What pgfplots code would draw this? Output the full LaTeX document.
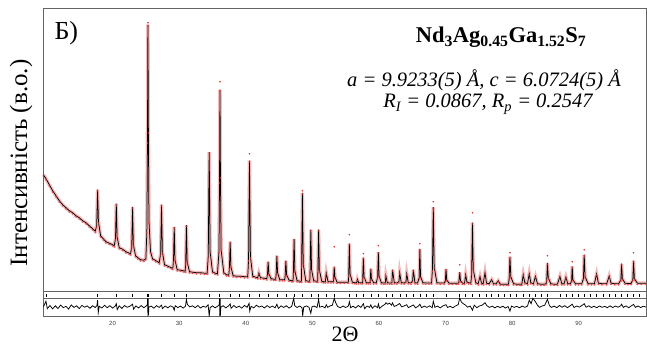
\documentclass[border=0pt]{standalone}
\usepackage{pgfplots}
\pgfplotsset{compat=1.18}
\usepackage{pgfplotstable}
\usepackage{fontspec}
\setmainfont{Liberation Serif}
\setsansfont{Liberation Sans}
\definecolor{frame}{RGB}{100,100,100}
\definecolor{obs}{RGB}{225,60,60}

\pgfplotstableread{
x y
9.6 117
10 113
10.5 107
11 101
11.5 96
12 91
12.5 87
13 84
13.5 81
14 79
14.5 76
15 74
15.5 71
16 69
16.5 66
17 63
17.4 60.5
17.62 66
17.75 102
17.88 70
18.2 56
18.6 53
19 50
19.5 48.5
20 47
20.25 46
20.44 53
20.56 88
20.68 55
21 44
21.5 42.5
22 40
22.5 38.5
22.7 38
22.88 45
23.0 84.7
23.12 47
23.45 36
23.8 34
24.2 32
24.7 31.5
25.0 33
25.15 60
25.24 150
25.31 267
25.38 160
25.47 70
25.7 40
26 33
26.5 31
27.0 29
27.22 38
27.35 87
27.48 40
27.8 27
28.3 25.5
28.8 24
29.05 23.5
29.15 31
29.26 64.7
29.37 32
29.7 22
30.2 21.5
30.6 21
30.9 20.5
30.98 28
31.09 66.5
31.2 30
31.55 20
32 19.5
32.6 19
33.2 19
33.8 18.5
34.2 18.5
34.37 35
34.51 139.5
34.65 40
35.0 20
35.4 18.5
35.75 18
35.98 40
36.06 110
36.13 202
36.2 115
36.3 42
36.7 19
37.1 17
37.45 16.5
37.55 24
37.66 50
37.77 25
38.1 16
38.6 15.5
39.2 15.5
39.8 15
40.3 15
40.42 32
40.56 131
40.7 35
41.05 15.5
41.5 14.5
41.8 14
41.97 18.7
42.2 14
42.7 13.5
43.15 13
43.26 17
43.36 30
43.47 18
43.8 13
44.2 12.5
44.5 12.5
44.57 18
44.67 36
44.78 19
45.1 12
45.5 12
45.85 12
45.92 16
46.02 31
46.13 17
46.5 11.5
46.9 11
47.1 11
47.15 19
47.26 52.7
47.37 21
47.7 11
48.1 10.5
48.35 10.5
48.39 25
48.51 98.7
48.63 28
49.0 11
49.4 10.5
49.62 10.5
49.66 20
49.77 62
49.88 22
50.2 11
50.6 10.5
50.8 10.5
50.83 20
50.94 62
51.05 22
51.4 10.5
51.7 10
51.95 10
52.09 18.7
52.35 10
52.8 10
53.15 10
53.2 14
53.29 25
53.38 15
53.7 9.5
54.2 9.5
54.8 9.5
55.4 9.5
55.46 16
55.56 48
55.66 18
56.0 9.5
56.4 9
56.65 9
56.76 12.5
56.95 9
57.3 9
57.55 9
57.57 14
57.66 34
57.76 15
58.1 9
58.4 9
58.68 9
58.7 12
58.78 23
58.87 13
59.2 9
59.6 9
59.81 15
59.91 39.5
60.01 16
60.35 9
60.7 8.7
60.95 8.7
61.04 16
61.25 9
61.6 8.7
61.94 8.7
62.04 22
62.3 9
62.7 8.7
63.0 10
63.11 19
63.35 9
63.8 8.7
64.06 10
64.17 18
64.4 9
64.8 8.7
65.06 11
65.16 22
65.4 9
65.8 8.7
66.04 14
66.14 42.7
66.25 15
66.6 9
67.0 8.7
67.5 8.7
67.9 8.7
68.03 22
68.16 84.5
68.29 25
68.7 9
69.2 8.6
69.8 8.6
69.97 11
70.07 22.7
70.17 12
70.5 8.6
71.0 8.5
71.6 8.5
71.9 8.5
72.02 10.5
72.12 19.5
72.25 11
72.55 8.5
72.85 8.5
73.02 17
73.2 10
73.45 9
73.8 8.5
73.92 18
74.04 69
74.16 22
74.55 9
74.9 8
75.17 15.3
75.4 8.5
75.65 8
75.92 19
76.15 8.5
76.55 8
76.92 12
77.2 8
77.6 8
77.91 11
78.2 7.5
78.7 7.5
79.2 7.5
79.45 7.5
79.55 13
79.67 35
79.8 15
80.2 8
80.7 7.5
81.2 7.5
81.45 7.5
81.67 17
81.9 9
82.3 8
82.57 18
82.8 9
83.2 8
83.5 15.3
83.8 8
84.3 7.5
84.8 7.5
85.1 8
85.2 12
85.3 28.7
85.42 14
85.8 8
86.3 7.5
86.8 7.5
87.17 15.3
87.45 8
87.8 8
88.07 14.7
88.35 8
88.75 8
88.93 11
89.02 25.3
89.12 12
89.5 8
90.0 8
90.45 8
90.7 13
90.82 37
90.95 15
91.4 8
91.9 8
92.35 8
92.68 17.7
92.95 8.5
93.5 8
94.2 8
94.57 15.7
94.85 8.5
95.4 8
96.0 8
96.33 12
96.43 28
96.55 13
96.95 8.5
97.4 8.2
97.85 8.2
98.12 12
98.23 31
98.35 13
98.8 8.5
99.4 8.5
100.1 8.5
}\calc

\begin{document}
\begin{tikzpicture}
\path[use as bounding box] (0pt,0pt) rectangle (647pt,345pt);
% main panel
\begin{axis}[
  at={(43.3pt,53.3pt)}, anchor=south west,
  scale only axis, width=602.7pt, height=283.4pt,
  xmin=9.6, xmax=100.1, ymin=0, ymax=283.4,
  ticks=none,
  axis line style={frame, line width=1pt},
]
\addplot[obs, line width=3.5pt, opacity=0.35] table[x=x,y=y] {\calc};
\addplot[only marks, mark=*, mark size=0.7pt, obs, opacity=0.6, mark options={yshift=-1.2pt}] table[x=x,y=y] {\calc};
\addplot[black, line width=0.75pt] table[x=x,y=y] {\calc};
\addplot[only marks, mark=*, mark size=0.6pt, obs] coordinates {
(36.13,210) (40.56,138) (74.04,79) (53.29,45) (55.56,57) (59.91,46)
(85.3,36) (90.82,42) (98.23,39) (72.12,27) (48.51,101) (25.31,269)
(66.14,48) (68.16,90) (57.66,38) (89.02,30) (79.67,39)
};
\end{axis}
% reflections + difference panel
\begin{axis}[
  at={(43.3pt,28.3pt)}, anchor=south west,
  scale only axis, width=602.7pt, height=25pt,
  xmin=9.6, xmax=100.1, ymin=0, ymax=25,
  ytick=\empty,
  xtick={20,30,...,90},
  major tick length=0pt,
  axis line style={frame, line width=1pt},
  /pgf/number format/assume math mode=true,
  xticklabel style={font=\sffamily\fontsize{6}{7}\selectfont, text=black!75, yshift=-1pt},
]
\addplot[frame, line width=1pt] coordinates {(9.6,18.4) (100.1,18.4)};
\addplot[only marks, mark=|, mark size=1.5pt, black, mark options={line width=0.6pt}] coordinates {
(10.05,21.2) (17.75,21.2) (20.56,21.2) (23.0,21.2) (25.26,21.2) (25.36,21.2) (27.35,21.2)
(29.26,21.2) (31.06,21.2) (34.51,21.2) (36.0,21.2) (36.1,21.2) (37.66,21.2) (39.05,21.2)
(40.56,21.2) (42.06,21.2) (43.36,21.2) (44.67,21.2) (46.02,21.2) (47.26,21.2) (48.51,21.2)
(49.77,21.2) (50.91,21.2) (52.06,21.2) (53.26,21.2) (55.56,21.2) (56.67,21.2) (57.66,21.2)
(58.82,21.2) (59.91,21.2) (61.07,21.2) (62.01,21.2) (63.17,21.2) (64.17,21.2) (65.16,21.2)
(66.17,21.2) (67.17,21.2) (68.16,21.2) (70.17,21.2) (72.06,21.2) (73.02,21.2) (74.07,21.2)
(75.07,21.2) (76.07,21.2) (76.92,21.2) (77.91,21.2) (78.82,21.2) (79.67,21.2) (80.67,21.2)
(81.67,21.2) (82.57,21.2) (83.42,21.2) (84.32,21.2) (85.27,21.2) (87.17,21.2) (88.07,21.2)
(89.02,21.2) (89.92,21.2) (90.82,21.2) (91.78,21.2) (92.68,21.2) (93.67,21.2) (94.57,21.2)
(95.47,21.2) (96.43,21.2) (97.27,21.2) (98.17,21.2) (99.07,21.2)
};
\addplot[black, line width=0.75pt] coordinates {
(9.6,9.7) (10.0,15.5) (10.2,8) (10.6,11.2) (11.0,7.8) (11.4,10.9) (11.8,8.2) (12.2,11.6)
(12.6,9.0) (13.0,10.4) (13.4,7.6) (13.8,11.8) (14.2,9.3) (14.6,10.9) (15.0,8.1) (15.4,11.3)
(15.8,9.5) (16.2,10.8) (16.6,8.4) (17.0,11.0) (17.4,9.2) (17.65,11) (17.75,16.5) (17.85,4)
(18.0,10.5) (18.4,8.7) (18.8,11.4) (19.2,9.0) (19.6,11.0) (20.0,8.6) (20.4,10.6) (20.56,13)
(20.7,7) (21.0,10.9) (21.4,8.3) (21.8,11.2) (22.2,9.4) (22.6,10.5) (23.0,12.5) (23.15,7.5)
(23.5,10.8) (23.9,8.8) (24.3,11.1) (24.7,9.0) (25.0,10.4) (25.22,12) (25.27,18.4) (25.31,0.5)
(25.35,18.0) (25.39,1.5) (25.45,9.5) (25.8,10.6) (26.2,8.5) (26.6,11.0) (27.0,9.3) (27.35,11.5)
(27.5,8) (27.9,10.7) (28.3,8.9) (28.7,10.9) (29.1,9.5) (29.26,6.5) (29.4,11) (29.8,9.1)
(30.2,10.6) (30.6,8.6) (30.95,10.5) (31.09,17.4) (31.25,12) (31.6,9.8) (32.0,10.9) (32.4,9.0)
(32.8,11.2) (33.2,8.7) (33.6,10.5) (34.0,9.4) (34.35,12) (34.51,0.7) (34.65,9) (35.0,10.8)
(35.4,8.9) (35.8,10.6) (36.02,12) (36.07,18.4) (36.11,0.5) (36.15,18.4) (36.19,1) (36.25,9.5)
(36.6,11.0) (37.0,8.8) (37.4,10.7) (37.66,12.8) (37.8,8.4) (38.2,11.2) (38.6,9.1) (39.0,10.6)
(39.4,8.5) (39.8,11.3) (40.2,9.4) (40.5,13.5) (40.6,5.5) (40.8,10.4) (41.2,8.8) (41.6,11.5)
(42.0,9.6) (42.4,10.7) (42.8,8.7) (43.2,11.1) (43.6,9.2) (44.0,10.6) (44.4,8.9) (44.67,12.5)
(44.9,8.3) (45.3,10.8) (45.7,9.3) (46.1,11.0) (46.5,8.6) (46.9,10.3) (47.2,18.4) (47.35,11)
(47.7,9.2) (48.1,10.7) (48.45,9) (48.55,0.7) (48.7,9.6) (49.1,10.8) (49.5,9.4) (49.77,3.4)
(49.95,10) (50.3,10.6) (50.7,9.1) (50.94,17.4) (51.1,9.5) (51.5,10.4) (51.9,8.8) (52.09,12)
(52.3,9.4) (52.7,10.9) (53.0,11.5) (53.29,18.4) (53.5,14) (53.8,10.2) (54.2,9.0) (54.6,10.7)
(55.0,9.2) (55.4,10.6) (55.56,15) (55.75,9) (56.1,10.5) (56.5,8.8) (56.9,11.2) (57.3,9.3)
(57.66,13) (57.85,8) (58.2,10.6) (58.6,9.4) (58.78,11.8) (59.0,8.5) (59.4,10.9) (59.8,9.0)
(59.91,12.8) (60.1,8.3) (60.5,10.7) (60.9,12.3) (61.04,14) (61.3,12.5) (61.6,13.5) (61.9,11.5)
(62.04,13.8) (62.3,10.2) (62.7,11.4) (63.11,13.2) (63.4,9.8) (63.8,10.8) (64.17,12) (64.4,9.1)
(64.8,10.4) (65.16,11.8) (65.5,8.9) (65.9,10.5) (66.14,12.5) (66.4,9.0) (66.8,10.6) (67.2,9.3)
(67.6,10.9) (68.0,9.0) (68.16,15.5) (68.4,9.4) (68.8,10.6) (69.2,8.8) (69.6,10.8) (70.07,12)
(70.3,9.2) (70.7,10.4) (71.1,8.9) (71.5,10.8) (71.9,12) (72.12,18.4) (72.4,14.5) (72.7,12.8)
(73.02,11.5) (73.3,9.5) (73.7,10.6) (74.04,6.5) (74.3,11.5) (74.7,9.0) (75.1,10.8) (75.5,11.5)
(75.92,14) (76.2,11.0) (76.6,9.3) (77.0,10.6) (77.4,8.8) (77.8,10.4) (78.2,9.1) (78.6,10.5)
(79.0,8.7) (79.4,10.2) (79.67,5.5) (79.9,10.6) (80.3,9.3) (80.7,10.4) (81.1,8.9) (81.5,10.6)
(81.9,9.4) (82.3,10.5) (82.57,16.5) (82.85,13) (83.1,18.4) (83.5,15) (83.8,11.5) (84.1,9.4)
(84.5,10.7) (84.9,11.5) (85.3,17.4) (85.6,11) (85.9,9.3) (86.3,10.6) (86.7,9.0) (87.1,11.2)
(87.5,9.5) (87.9,11.0) (88.3,9.0) (88.7,10.9) (89.02,12.5) (89.3,9.2) (89.7,10.7) (90.1,9.6)
(90.5,11.3) (90.82,13) (91.1,9.5) (91.5,10.9) (91.9,9.2) (92.3,10.5) (92.7,8.9) (93.1,10.7)
(93.5,9.4) (93.9,10.3) (94.3,9.0) (94.7,10.8) (95.1,9.2) (95.5,10.6) (95.9,9.5) (96.3,11.0)
(96.43,12.5) (96.7,9.3) (97.1,10.8) (97.5,9.0) (97.9,10.9) (98.23,12.3) (98.5,9.4) (98.9,10.7)
(99.3,9.1) (99.7,10.5) (100.1,9.6)
};
\end{axis}
% texts
\node[anchor=base west, font=\fontsize{26}{30}\selectfont] at (51pt,305pt) {Б)};
\node[anchor=base, font=\fontsize{22.5}{26}\selectfont\bfseries] at (501pt,302pt)
  {Nd\textsubscript{3}Ag\textsubscript{0.45}Ga\textsubscript{1.52}S\textsubscript{7}};
\node[anchor=base, font=\fontsize{20.5}{24}\selectfont\itshape] at (484pt,258pt)
  {a = 9.9233(5) Å, c = 6.0724(5) Å};
\node[anchor=base, font=\fontsize{20.5}{24}\selectfont\itshape] at (488pt,237pt)
  {R\textsubscript{I} = 0.0867, R\textsubscript{p} = 0.2547};
\node[rotate=90, font=\fontsize{25}{28}\selectfont] at (21pt,182pt) {Інтенсивність (в.о.)};
\node[anchor=base, font=\fontsize{22}{25}\selectfont] at (345pt,4pt) {2Θ};
\end{tikzpicture}
\end{document}
